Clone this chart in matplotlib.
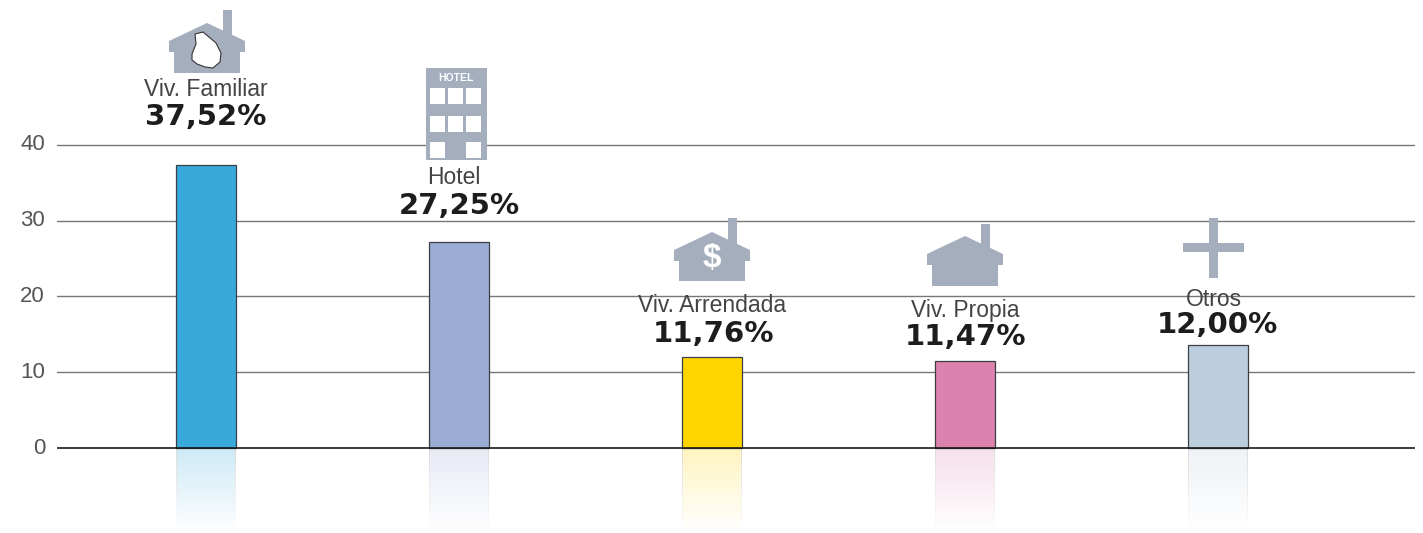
import numpy as np
import matplotlib
matplotlib.use('Agg')
import matplotlib.pyplot as plt
from matplotlib.colors import to_rgb
from matplotlib.patches import Polygon, Rectangle

# data
categories = ['Viv. Familiar', 'Hotel', 'Viv. Arrendada', 'Viv. Propia', 'Otros']
value_labels = ['37,52%', '27,25%', '11,76%', '11,47%', '12,00%']
bar_heights = [37.4, 27.2, 12.0, 11.5, 13.6]
bar_colors = ['#39a9dc', '#9badd5', '#ffd500', '#dc82ae', '#bccddd']
y_ticks = [0, 10, 20, 30, 40]

W, H = 1423, 533
ICON = '#a4aebd'

# label places in pixels of the picture
name_pos = [(206, 89), (454, 178), (712, 306), (965, 310), (1214, 299)]
value_pos = [(206, 117), (459, 206), (714, 334), (965, 337), (1217, 325)]

fig = plt.figure(figsize=(W / 100, H / 100), dpi=100, facecolor='white')
ax = fig.add_axes([57 / W, 0, (1415 - 57) / W, 1])

x = np.arange(len(categories))
bar_w = 0.237

ax.bar(x, bar_heights, width=bar_w, color=bar_colors, edgecolor='#3a3f45', linewidth=0.9, zorder=3)

# reflection under the bars, faint edge on both sides
for xi, c in zip(x, bar_colors):
    rgba = np.ones((64, 60, 4))
    rgba[:, :, :3] = to_rgb(c)
    rgba[:, [0, -1], :3] = 0.45
    rgba[:, :, 3] = np.linspace(0.25, 0.0, 64)[:, None]
    ax.imshow(rgba, extent=[xi - bar_w / 2, xi + bar_w / 2, -11.2, 0], aspect='auto', origin='upper',
              interpolation='nearest', zorder=1)
ax.set_xlim(-0.589, 4.779)
ax.set_ylim(-11.22, 59.14)

for t in y_ticks[1:]:
    ax.plot([-0.589, 4.779], [t, t], color='#777777', lw=1.0, zorder=2)
ax.plot([-0.589, 4.779], [0, 0], color='#1a1a1a', lw=1.2, zorder=4)
ax.axis('off')

for t in y_ticks:
    ax.text(-0.589 - 12 / 253, t, str(t), ha='right', va='center', clip_on=False, fontsize=16,
            color='#555555', family='Liberation Sans')

# overlay in picture pixels for the icons and the labels
px = fig.add_axes([0, 0, 1, 1], facecolor='none')
px.set_xlim(0, W)
px.set_ylim(H, 0)
px.axis('off')


def house(cx, top, chim, eave, bottom, half, wall):
    # cx, top = roof apex, chim = top of the chimney
    slope = (eave - top) / half
    c1, c2 = cx + 16, cx + 25
    pts = [(cx - half, eave), (cx, top), (c1, top + 16 * slope), (c1, chim), (c2, chim),
           (c2, top + 25 * slope), (cx + half, eave), (cx + half, eave + 11), (cx + wall, eave + 11),
           (cx + wall, bottom), (cx - wall, bottom), (cx - wall, eave + 11), (cx - half, eave + 11)]
    px.add_patch(Polygon(pts, closed=True, fc=ICON, ec='none', zorder=5))


house(207, 23, 10, 41, 73, 38, 33)
house(712, 232, 218, 250, 281, 38, 33)
house(965, 236, 224, 254, 286, 38, 33)

# Uruguay in the first house
uy = [(195, 34), (203, 32), (209, 37), (216, 43), (221, 53), (220, 62), (213, 68), (205, 67), (197, 64),
      (192, 60), (192, 54), (196, 44)]
px.add_patch(Polygon(uy, closed=True, fc='white', ec='#333333', lw=0.8, zorder=6))
px.text(712, 259, '$', ha='center', va='center', color='white', fontsize=24, fontweight='bold',
        family='Liberation Sans', zorder=6)

# hotel
px.add_patch(Rectangle((426, 68), 61, 92, fc=ICON, ec='none', zorder=5))
for wy in [88, 116, 142]:
    for wx in [430, 448, 466]:
        if wy == 142 and wx == 448:
            continue
        px.add_patch(Rectangle((wx, wy), 15, 16, fc='white', ec='none', zorder=6))
px.text(456, 78, 'HOTEL', ha='center', va='center', color='white', fontsize=7.5, fontweight='bold',
        family='Liberation Sans', zorder=6)

# plus sign
px.add_patch(Rectangle((1209, 218), 9, 60, fc=ICON, ec='none', zorder=5))
px.add_patch(Rectangle((1183, 243), 61, 9, fc=ICON, ec='none', zorder=5))

for name, (nx, ny) in zip(categories, name_pos):
    px.text(nx, ny, name, ha='center', va='center', fontsize=16.5, color='#444444',
            family='Liberation Sans', zorder=7)
for val, (vx, vy) in zip(value_labels, value_pos):
    px.text(vx, vy, val, ha='center', va='center', fontsize=21, fontweight='bold', color='#1d1d1f',
            family='DejaVu Sans', zorder=7)

fig.savefig('out.png', dpi=100, facecolor='white')
